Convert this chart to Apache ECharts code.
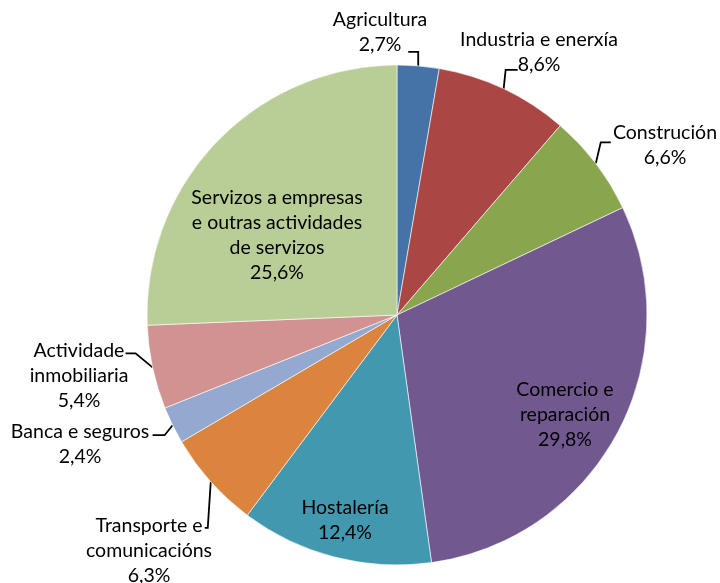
<!DOCTYPE html>
<html>
<head>
<meta charset="utf-8">
<script src="https://cdn.jsdelivr.net/npm/echarts@6/dist/echarts.min.js"></script>
<style>
html, body { margin: 0; padding: 0; background: #fff; }
#chart { width: 720px; height: 583px; }
</style>
</head>
<body>
<div id="chart"></div>
<script>
// sectors, clockwise from 12 o'clock
const sectors = [
    "Agricultura",
    "Industria e enerxía",
    "Construción",
    "Comercio e\nreparación",
    "Hostalería",
    "Transporte e\ncomunicacións",
    "Banca e seguros",
    "Actividade\ninmobiliaria",
    "Servizos a empresas\ne outras actividades\nde servizos"
]
const shares = [2.7, 8.6, 6.6, 29.8, 12.4, 6.3, 2.4, 5.4, 25.6]
const sliceColors = ['#4572A7', '#AA4643', '#89A54E', '#71588F', '#4198AF', '#DB843D', '#93A9CF', '#D19392', '#B9CD96']
const insideLabel = [false, false, false, true, true, false, false, false, true]

// where each label block sits (centre of the text), layout only
const labelCentres = [
    [380, 32], [539, 52], [665, 145], [565, 415], [345, 520],
    [149, 551], [80, 444], [79, 376], [277, 235]
]
// leader line bends: first leg from the slice edge, then the short leg to the text
const leaderBends = [
    [[0, -14], [-10, 0]],
    [[2, -19], [12, 0]],
    [[5, -21], [10, 0]],
    null, null,
    [[-3, 46], [-3, 0]],
    [[-8, 10], [-12, 0]],
    [[-17, -14], [-10, 0]],
    null
]

const pieData = []
for (let i = 0; i < sectors.length; i++) {
    pieData.push({
        name: sectors[i],
        value: shares[i],
        itemStyle: {color: sliceColors[i]},
        label: {position: insideLabel[i] ? 'inside' : 'outside'},
        labelLine: {show: !insideLabel[i]}
    })
}

const myChart = echarts.init(document.getElementById('chart'))
myChart.setOption({
    animation: false,
    textStyle: {fontFamily: 'Lato'},
    series: [
        {
            type: 'pie',
            center: [397, 315],
            radius: 250,
            startAngle: 90,
            clockwise: true,
            itemStyle: {borderColor: '#ffffff', borderWidth: 0.6},
            label: {
                color: '#000',
                fontSize: 19.5,
                lineHeight: 25,
                fontFamily: 'Lato',
                overflow: 'none',
                formatter(p) {
                    return p.name + '\n' + p.value.toFixed(1).replace('.', ',') + '%'
                }
            },
            labelLine: {
                length: 10,
                length2: 10,
                lineStyle: {color: '#000', width: 1.8}
            },
            labelLayout(params) {
                const i = params.dataIndex
                const c = labelCentres[i]
                const out = {x: c[0], y: c[1], align: 'center', verticalAlign: 'middle'}
                const bend = leaderBends[i]
                if (bend && params.labelLinePoints) {
                    const p0 = params.labelLinePoints[0]
                    const p1 = [p0[0] + bend[0][0], p0[1] + bend[0][1]]
                    const p2 = [p1[0] + bend[1][0], p1[1] + bend[1][1]]
                    out.labelLinePoints = [p0, p1, p2]
                }
                return out
            },
            emphasis: {disabled: true},
            data: pieData
        }
    ]
})
</script>
</body>
</html>
